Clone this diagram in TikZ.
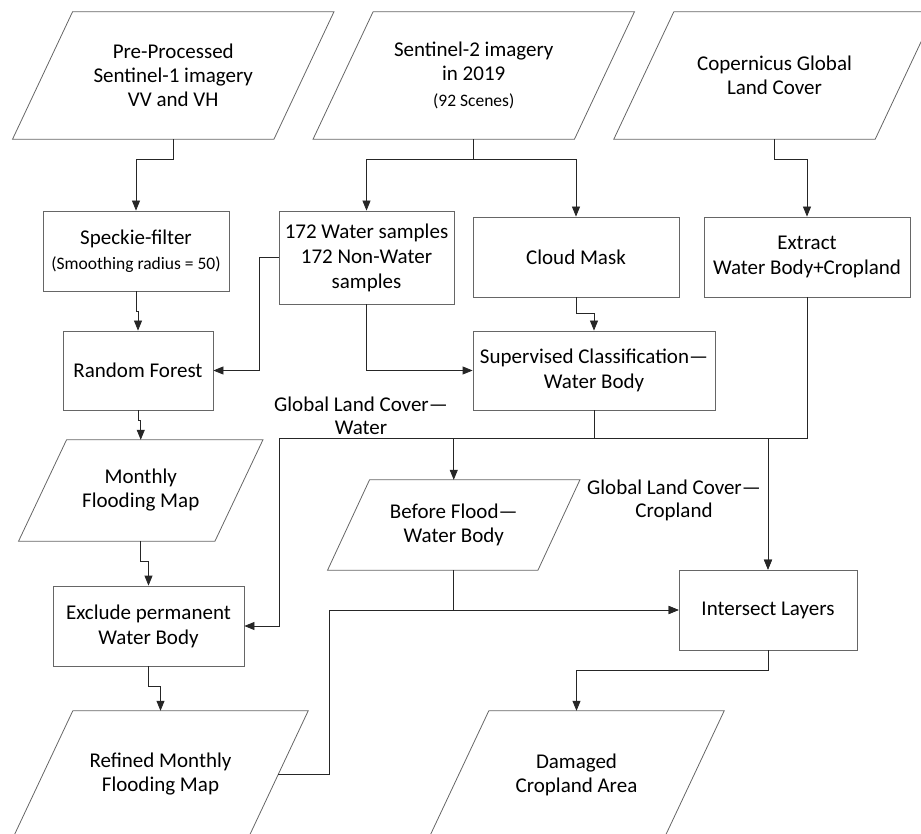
\documentclass[tikz,border=0pt]{standalone}
\usepackage{fontspec}
\setmainfont{Carlito}
\usetikzlibrary{arrows.meta}

\begin{document}
\begin{tikzpicture}[x=1pt, y=-1pt,
            box/.style={draw=black!60, line width=0.8pt, align=center, inner sep=2pt, font=\fontsize{21}{25}\selectfont},
            io/.style={align=center, inner sep=0pt, font=\fontsize{21}{24}\selectfont},
            outline/.style={draw=black!60, line width=0.8pt},
            lab/.style={align=center, font=\fontsize{21}{23}\selectfont},
            arr/.style={draw=black!85, line width=0.8pt, -{Triangle[length=10pt, width=8pt]}}
        ]

        \useasboundingbox (0,0) rectangle (921,834);
        \clip (0,0) rectangle (921,834);

        % data (parallelograms)
        \node[io, minimum width=261pt, minimum height=127pt] (pre) at (173.25,75.5) {Pre-Processed\\Sentinel-1 imagery\\VV and VH};
        \node[io, minimum width=261pt, minimum height=127pt] (sen) at (473.75,75.5) {Sentinel-2 imagery\\in 2019\\[2pt]{\fontsize{17.5}{20}\selectfont (92 Scenes)}};
        \node[io, minimum width=261pt, minimum height=127pt] (cop) at (774.5,75.5) {Copernicus Global\\Land Cover};
        \node[io, minimum width=196pt, minimum height=101pt] (monthly) at (140.75,490.5) {Monthly\\Flooding Map};
        \node[io, minimum width=210pt, minimum height=90pt] (before) at (453.75,525) {Before Flood---\\Water Body};
        \node[io, minimum width=235pt, minimum height=127pt] (refined) at (160.5,774.5) {Refined Monthly\\Flooding Map};
        \node[io, minimum width=235pt, minimum height=127pt] (damaged) at (576.5,774.5) {Damaged\\Cropland Area};

        % outlines
        \foreach \n/\s in {pre/30, sen/30, cop/30, monthly/24, before/21, refined/30, damaged/30}
            \draw[outline] ([xshift=\s pt]\n.north west) -- ([xshift=\s pt]\n.north east)
                -- ([xshift=-\s pt]\n.south east) -- ([xshift=-\s pt]\n.south west) -- cycle;

        % processes
        \node[box, minimum width=186pt, minimum height=80pt] (speckle) at (136,251) {Speckie-filter\\{\fontsize{17.5}{20}\selectfont (Smoothing radius = 50)}};
        \node[box, minimum width=175pt, minimum height=93pt] (samples) at (366.5,257.5) {172 Water samples\\172 Non-Water\\samples};
        \node[box, minimum width=206pt, minimum height=80pt] (cloud) at (576,257) {Cloud Mask};
        \node[box, minimum width=206pt, minimum height=80pt] (extract) at (807,257) {Extract\\Water Body+Cropland};
        \node[box, minimum width=150pt, minimum height=79pt] (forest) at (138,370.5) {Random Forest};
        \node[box, minimum width=242pt, minimum height=79pt] (classify) at (594,370.5) {Supervised Classification---\\Water Body};
        \node[box, minimum width=191pt, minimum height=80pt] (exclude) at (148.5,626) {Exclude permanent\\Water Body};
        \node[box, minimum width=178pt, minimum height=80pt] (intersect) at (768,610) {Intersect Layers};

        % labels
        \node[lab] (lwater) at (361,416) {Global Land Cover---\\Water};
        \node[lab] (lcrop)  at (674,500) {Global Land Cover---\\Cropland};

        % edges
        \coordinate (wbend) at (279,438);
        \coordinate (rbend) at (329,610);

        \draw[arr] (pre.south) -- ++(0,20) -| (speckle.north);
        \draw[arr] (sen.south) -- ++(0,20) -| (samples.north);
        \draw[arr] (sen.south) -- ++(0,20) -| (cloud.north);
        \draw[arr] (cop.south) -- ++(0,20) -| (extract.north);
        \draw[arr] (speckle.south) -- ++(0,20) -| (forest.north);
        \draw[arr] (samples.west) -- ++(-19,0) |- (forest.east);
        \draw[arr] (samples.south) |- (classify.west);
        \draw[arr] (cloud.south) -- ++(0,16) -| (classify.north);
        \draw[arr] (classify.south) |- (wbend) |- (exclude.east);
        \draw[arr] (classify.south) -- ++(0,28) -| (before.north);
        \draw[arr] (classify.south) -- ++(0,28) -| (intersect.north);
        \draw[arr] (extract.south) -- ++(0,141) -| (intersect.north);
        \draw[arr] (forest.south) -- ++(0,10) -| (monthly.north);
        \draw[arr] (monthly.south) -- ++(0,20) -| (exclude.north);
        \draw[arr] (exclude.south) -- ++(0,20) -| (refined.north);
        \draw[arr] (before.south) |- (intersect.west);
        \draw[arr] (refined.east) -| (rbend) -- (intersect.west);
        \draw[arr] (intersect.south) -- ++(0,20) -| (damaged.north);
    \end{tikzpicture}
\end{document}
